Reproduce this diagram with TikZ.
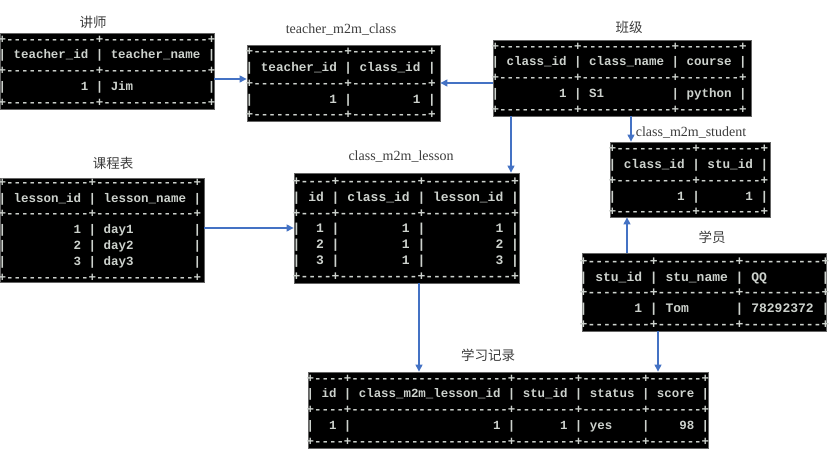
\documentclass[tikz,border=0pt]{standalone}
\usepackage{fontspec}
\setmainfont{Liberation Serif}
\setmonofont{Liberation Mono}
\newfontfamily\cjk{Noto Sans CJK SC}
\usetikzlibrary{arrows.meta}
\definecolor{arrowblue}{RGB}{68,114,196}
\definecolor{tblfg}{RGB}{205,210,205}
\definecolor{tbledge}{RGB}{100,100,100}
\definecolor{lblfg}{RGB}{60,60,60}
\newcommand{\gap}[1]{\hspace*{\dimexpr 0.6em*#1\relax}}
\tikzset{
  tblbox/.style={fill=black, draw=tbledge, line width=0.8pt, inner sep=0pt},
  tbltxt/.style={anchor=west, inner sep=0pt, align=left, text=tblfg,
    font=\ttfamily\bfseries\fontsize{#1}{15.8}\selectfont},
  lbl/.style={inner sep=0pt, text=lblfg, font=\fontsize{14}{16}\selectfont},
  cjklbl/.style={inner sep=0pt, text=lblfg, font=\cjk\fontsize{13.5}{16}\selectfont},
  arr/.style={draw=arrowblue, line width=1.1pt, -{Triangle[length=7pt,width=7pt]}}
}
\begin{document}
\begin{tikzpicture}[x=1pt,y=-1pt]
\useasboundingbox (0,0) rectangle (830,454);
% boxes
\node[tblbox, minimum width=214pt, minimum height=76pt] (t1) at (107,71) {};
\node[tblbox, minimum width=193pt, minimum height=76pt] (t2) at (343.5,83) {};
\node[tblbox, minimum width=258pt, minimum height=76pt] (t3) at (622,78) {};
\node[tblbox, minimum width=160pt, minimum height=75pt] (t4) at (690,179.5) {};
\node[tblbox, minimum width=204pt, minimum height=104pt] (t5) at (102,230) {};
\node[tblbox, minimum width=225pt, minimum height=110pt] (t6) at (406.5,228) {};
\node[tblbox, minimum width=244pt, minimum height=78pt] (t7) at (704,292) {};
\node[tblbox, minimum width=400pt, minimum height=76pt] (t8) at (508,410) {};
% texts
\node[tbltxt=12.45] (x1) at (-1.5,71) {+------------+--------------+\\
|~teacher\_id~|~teacher\_name~|\\
+------------+--------------+\\
|\gap{10}1~|~Jim\gap{10}|\\
+------------+--------------+};
\node[tbltxt=12.66] (x2) at (245.5,83.5) {+------------+----------+\\
|~teacher\_id~|~class\_id~|\\
+------------+----------+\\
|\gap{10}1~|\gap{8}1~|\\
+------------+----------+};
\node[tbltxt=12.5] (x3) at (491.5,78) {+----------+------------+--------+\\
|~class\_id~|~class\_name~|~course~|\\
+----------+------------+--------+\\
|\gap{8}1~|~S1\gap{9}|~python~|\\
+----------+------------+--------+};
\node[tbltxt=12.66] (x4) at (608.5,180.5) {+----------+--------+\\
|~class\_id~|~stu\_id~|\\
+----------+--------+\\
|\gap{8}1~|\gap{6}1~|\\
+----------+--------+};
\node[tbltxt=12.5] (x5) at (-1.5,230) {+-----------+-------------+\\
|~lesson\_id~|~lesson\_name~|\\
+-----------+-------------+\\
|\gap{9}1~|~day1\gap{8}|\\
|\gap{9}2~|~day2\gap{8}|\\
|\gap{9}3~|~day3\gap{8}|\\
+-----------+-------------+};
\node[tbltxt=13] (x6) at (292.5,229) {+----+----------+-----------+\\
|~id~|~class\_id~|~lesson\_id~|\\
+----+----------+-----------+\\
|\gap{2}1~|\gap{8}1~|\gap{9}1~|\\
|\gap{2}2~|\gap{8}1~|\gap{9}2~|\\
|\gap{2}3~|\gap{8}1~|\gap{9}3~|\\
+----+----------+-----------+};
\node[tbltxt=13] (x7) at (579.5,293) {+--------+----------+----------+\\
|~stu\_id~|~stu\_name~|~QQ\gap{7}|\\
+--------+----------+----------+\\
|\gap{6}1~|~Tom\gap{6}|~78292372~|\\
+--------+----------+----------+};
\node[tbltxt=12.42] (x8) at (306.5,410) {+----+---------------------+--------+--------+-------+\\
|~id~|~class\_m2m\_lesson\_id~|~stu\_id~|~status~|~score~|\\
+----+---------------------+--------+--------+-------+\\
|\gap{2}1~|\gap{19}1~|\gap{6}1~|~yes\gap{4}|\gap{4}98~|\\
+----+---------------------+--------+--------+-------+};
% labels
\node[cjklbl] (l1) at (93,22) {讲师};
\node[lbl] (l2) at (341,30) {teacher\_m2m\_class};
\node[cjklbl] (l3) at (629,27) {班级};
\node[lbl] (l4) at (691,133) {class\_m2m\_student};
\node[cjklbl] (l5) at (113,163) {课程表};
\node[lbl] (l6) at (401,157) {class\_m2m\_lesson};
\node[cjklbl] (l7) at (712,237) {学员};
\node[cjklbl] (l8) at (488,355) {学习记录};
% connectors
\coordinate (a1) at (0,79);
\coordinate (a2) at (0,83);
\coordinate (a3) at (511,0);
\coordinate (a4) at (631,0);
\coordinate (a5) at (0,228);
\coordinate (a6) at (419,0);
\coordinate (a7) at (627,0);
\coordinate (a8) at (658,0);
\draw[arr] (a1 -| t1.east) -- (a1 -| t2.west);
\draw[arr] (a2 -| t3.west) -- (a2 -| t2.east);
\draw[arr] (a3 |- t3.south) -- (a3 |- t6.north);
\draw[arr] (a4 |- t3.south) -- (a4 |- t4.north);
\draw[arr] (a5 -| t5.east) -- (a5 -| t6.west);
\draw[arr] (a6 |- t6.south) -- (a6 |- t8.north);
\draw[arr] (a7 |- t7.north) -- (a7 |- t4.south);
\draw[arr] (a8 |- t7.south) -- (a8 |- t8.north);
\end{tikzpicture}
\end{document}
